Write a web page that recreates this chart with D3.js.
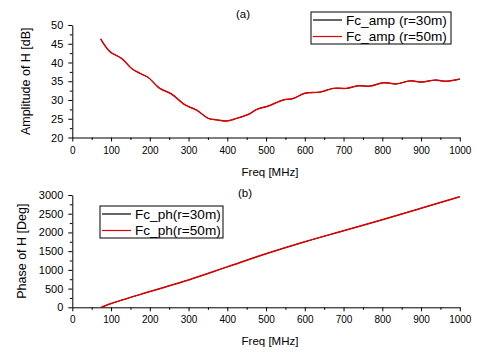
<!DOCTYPE html>
<html>
<head>
<meta charset="utf-8">
<script src="https://cdn.jsdelivr.net/npm/d3@7"></script>
<style>
  body { margin: 0; background: #fff; }
  text { font-family: "Liberation Sans", Arial, sans-serif; }
</style>
</head>
<body>
<div id="container"></div>
<script>
let w = 477;
let h = 352;

// amplitude curve (a), both series coincide
let ampFreq = [73, 97, 127, 153, 175, 196, 226, 256, 291, 321, 351, 373, 398, 424, 450, 459, 476, 506, 544, 570, 600, 639, 674, 708, 738, 768, 803, 837, 871, 902, 936, 966, 1000];
let amp30 = [46.3, 42.9, 41.1, 38.4, 37.1, 36.0, 33.1, 31.6, 28.7, 27.3, 25.1, 24.7, 24.4, 25.1, 26.0, 26.4, 27.5, 28.4, 30.0, 30.4, 31.8, 32.1, 33.1, 33.1, 33.8, 33.7, 34.6, 34.3, 35.1, 34.8, 35.3, 35.0, 35.6];
let amp50 = [46.3, 42.9, 41.1, 38.4, 37.1, 36.0, 33.1, 31.6, 28.7, 27.3, 25.1, 24.7, 24.4, 25.1, 26.0, 26.4, 27.5, 28.4, 30.0, 30.4, 31.8, 32.1, 33.1, 33.1, 33.8, 33.7, 34.6, 34.3, 35.1, 34.8, 35.3, 35.0, 35.6];

// phase curve (b)
let phFreq = [75, 100, 200, 300, 400, 500, 600, 700, 800, 900, 1000];
let ph30 = [0, 100, 420, 730, 1080, 1430, 1750, 2045, 2340, 2645, 2955];
let ph50 = [0, 100, 420, 730, 1080, 1430, 1750, 2045, 2340, 2645, 2955];

let xTicks = [0, 100, 200, 300, 400, 500, 600, 700, 800, 900, 1000];
let ampTicks = [20, 25, 30, 35, 40, 45, 50];
let phTicks = [0, 500, 1000, 1500, 2000, 2500, 3000];

let viz = d3.select("#container")
  .append("svg")
    .attr("width", w)
    .attr("height", h)
;

let xScale = d3.scaleLinear().domain([0, 1000]).range([72.3, 459.8]);
let fmt = d3.format('d');

function drawPanel(opts){
  let g = viz.append('g');
  let yScale = d3.scaleLinear().domain(opts.yDomain).range([opts.bottom, opts.top]);

  // minor ticks
  let xMinor = d3.range(50, 1000, 100);
  g.append('g')
    .attr('transform', 'translate(0,' + opts.bottom + ')')
    .call(d3.axisBottom(xScale).tickValues(xMinor).tickSize(2.5).tickFormat(''))
    .call(function(s){ s.select('.domain').remove(); });
  let step = opts.yTicks[1] - opts.yTicks[0];
  let yMinor = opts.yTicks.slice(0, -1).map(function(d){ return d + step / 2; });
  g.append('g')
    .attr('transform', 'translate(' + xScale(0) + ',0)')
    .call(d3.axisLeft(yScale).tickValues(yMinor).tickSize(2.5).tickFormat(''))
    .call(function(s){ s.select('.domain').remove(); });

  let xAxisGroup = g.append('g')
    .attr('transform', 'translate(0,' + opts.bottom + ')')
    .call(d3.axisBottom(xScale).tickValues(xTicks).tickFormat(fmt).tickSize(4).tickSizeOuter(0).tickPadding(5));
  xAxisGroup.selectAll('text').attr('font-size', 10).attr('fill', '#000').attr('font-family', '"Liberation Sans", Arial, sans-serif');

  let yAxisGroup = g.append('g')
    .attr('transform', 'translate(' + xScale(0) + ',0)')
    .call(d3.axisLeft(yScale).tickValues(opts.yTicks).tickFormat(fmt).tickSize(4).tickSizeOuter(0).tickPadding(5));
  yAxisGroup.selectAll('text').attr('font-size', 11).attr('fill', '#000').attr('font-family', '"Liberation Sans", Arial, sans-serif');

  g.selectAll('.domain, .tick line').attr('stroke', '#000').attr('stroke-width', 1);

  let line = d3.line()
    .x(function(d){ return xScale(d[0]); })
    .y(function(d){ return yScale(d[1]); })
    .curve(d3.curveCatmullRom.alpha(0.5));

  let colors = ['#000000', '#e00000'];
  let widths = [1.0, 1.5];
  opts.series.forEach(function(s, i){
    let pts = opts.freq.map(function(f, j){ return [f, s[j]]; });
    g.append('path')
      .attr('d', line(pts))
      .attr('fill', 'none')
      .attr('stroke', colors[i])
      .attr('stroke-width', widths[i]);
  });

  g.append('text')
    .text('Freq [MHz]')
    .attr('x', 270)
    .attr('y', opts.bottom + 38)
    .attr('text-anchor', 'middle')
    .attr('font-size', 11.5);

  g.append('text')
    .text(opts.yLabel)
    .attr('transform', 'translate(' + opts.yLabelX + ',' + ((opts.top + opts.bottom) / 2) + ') rotate(-90)')
    .attr('text-anchor', 'middle')
    .attr('font-size', 12.5);

  g.append('text')
    .text(opts.tag)
    .attr('x', opts.tagX)
    .attr('y', opts.tagY)
    .attr('text-anchor', 'middle')
    .attr('font-size', 11.5);

  // legend
  let lg = g.append('g').attr('transform', 'translate(' + opts.legX + ',' + opts.legY + ')');
  lg.append('rect')
    .attr('width', opts.legW)
    .attr('height', 32)
    .attr('fill', '#fff')
    .attr('stroke', '#000')
    .attr('stroke-width', 1);
  opts.names.forEach(function(n, i){
    let yy = 8 + i * 16.5;
    lg.append('line')
      .attr('x1', 2).attr('x2', 31)
      .attr('y1', yy).attr('y2', yy)
      .attr('stroke', colors[i])
      .attr('stroke-width', 1.2);
    lg.append('text')
      .text(n)
      .attr('x', 35)
      .attr('y', yy + 4.8)
      .attr('font-size', 13.6);
  });
}

drawPanel({
  top: 25, bottom: 137.5,
  yDomain: [20, 50], yTicks: ampTicks,
  freq: ampFreq, series: [amp30, amp50],
  yLabel: 'Amplitude of H [dB]', yLabelX: 30,
  tag: '(a)', tagX: 243, tagY: 18,
  legX: 311, legY: 12, legW: 140,
  names: ['Fc_amp (r=30m)', 'Fc_amp (r=50m)']
});

drawPanel({
  top: 195, bottom: 307.3,
  yDomain: [0, 3000], yTicks: phTicks,
  freq: phFreq, series: [ph30, ph50],
  yLabel: 'Phase of H [Deg]', yLabelX: 26,
  tag: '(b)', tagX: 245, tagY: 197,
  legX: 100, legY: 206, legW: 123,
  names: ['Fc_ph(r=30m)', 'Fc_ph(r=50m)']
});
</script>
</body>
</html>
